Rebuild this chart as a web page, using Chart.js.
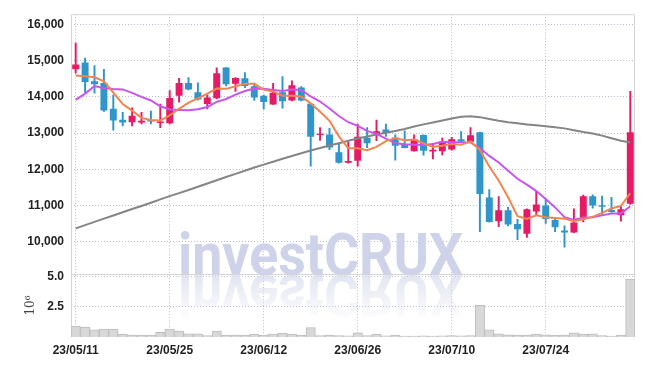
<!DOCTYPE html>
<html><head><meta charset="utf-8">
<script src="https://cdn.jsdelivr.net/npm/chart.js@4.4.0/dist/chart.umd.min.js"></script>
<style>html,body{margin:0;padding:0;background:#fff;}#wrap{width:645px;height:366px;position:relative;}</style>
</head><body><div id="wrap"><canvas id="c" width="645" height="366"></canvas></div>
<script>
// ---- data ----
const dates = ['23/05/11','23/05/12','23/05/15','23/05/16','23/05/17','23/05/18','23/05/19','23/05/22','23/05/23','23/05/24',
 '23/05/25','23/05/26','23/05/30','23/05/31','23/06/01','23/06/02','23/06/05','23/06/07','23/06/08','23/06/09',
 '23/06/12','23/06/13','23/06/14','23/06/15','23/06/16','23/06/19','23/06/20','23/06/21','23/06/22','23/06/23',
 '23/06/26','23/06/27','23/06/28','23/06/29','23/06/30','23/07/03','23/07/04','23/07/05','23/07/06','23/07/07',
 '23/07/10','23/07/11','23/07/12','23/07/13','23/07/14','23/07/17','23/07/18','23/07/19','23/07/20','23/07/21',
 '23/07/24','23/07/25','23/07/26','23/07/27','23/07/28','23/07/31','23/08/01','23/08/02','23/08/03','23/08/04'];
const opens = [14760,14950,14430,14380,13670,13370,13300,13290,13360,13280,
 13270,14030,14380,14130,13800,13960,14810,14360,14510,14290,
 14030,13790,14130,13900,14260,13810,12950,12960,12470,12180,
 12240,12870,12970,13100,12880,12690,12500,12950,12490,12500,
 12550,12830,12760,13020,11220,10570,10870,10490,10220,10840,
 11000,10600,10310,10260,10680,11260,11010,10880,10730,11050];
const highs = [15480,15070,14860,14760,14050,13570,13700,13570,13610,13800,
 14170,14510,14530,14390,14050,14800,14810,14530,14670,14380,
 14050,14370,14560,14440,14280,13820,13150,13130,12700,12750,
 13250,13150,13360,13250,12950,13060,12950,12950,12720,12860,
 12880,13040,13150,13030,11440,11250,10960,10620,10910,11390,
 11170,10640,10440,10910,11290,11300,11260,11230,11000,14150];
const lows = [14650,14120,14100,13600,13080,13200,13200,13250,13250,13150,
 13250,13850,14190,13910,13670,13940,14300,14150,14250,13900,
 13670,13790,13690,13890,13890,12090,12800,12540,12170,12170,
 12090,12600,12790,12910,12250,12590,12500,12390,12290,12400,
 12530,12750,12740,10280,10540,10420,10440,10060,10120,10730,
 10510,10280,9850,10250,10550,10930,10720,10810,10570,11030];
const closes = [14890,14410,14350,13620,13350,13290,13480,13340,13320,13320,
 13970,14380,14200,13930,13980,14650,14350,14520,14300,13980,
 13860,14110,13880,14320,13900,12900,12980,12600,12180,12230,
 12900,12720,13050,13000,12650,12590,12830,12510,12540,12770,
 12830,12770,12940,11320,10550,10870,10480,10350,10900,11030,
 10630,10400,10260,10530,11260,11000,10970,10820,10900,13020];
const ma5 = [14590,14570,14540,14430,14120,13800,13620,13420,13360,13350,
 13490,13670,13840,13960,14090,14230,14220,14290,14360,14360,
 14200,14150,14030,14030,14010,13820,13590,13340,12910,12580,
 12580,12530,12620,12780,12860,12800,12820,12720,12620,12650,
 12700,12680,12770,12530,12080,11690,11230,10710,10630,10730,
 10680,10660,10640,10570,10620,10690,10800,10920,10990,11340];
const ma10 = [13915,14090,14300,14240,14215,14205,14110,14000,13900,13740,
 13650,13640,13630,13660,13720,13860,13940,14060,14160,14230,
 14220,14190,14160,14200,14190,14010,13870,13680,13470,13300,
 13200,13060,12980,12850,12720,12690,12680,12670,12700,12760,
 12750,12750,12740,12580,12370,12190,11960,11740,11580,11400,
 11180,10950,10680,10600,10670,10680,10730,10780,10780,10980];
const maLong = [10370,10460,10550,10640,10725,10815,10905,10990,11080,11170,
 11260,11345,11430,11520,11610,11700,11790,11875,11960,12050,
 12130,12210,12290,12370,12445,12520,12590,12655,12720,12790,
 12850,12905,12960,13010,13060,13115,13180,13240,13290,13345,
 13400,13450,13465,13440,13390,13340,13300,13270,13240,13215,
 13190,13160,13130,13080,13030,12990,12930,12860,12790,12740];
const volumes = [900000,820000,600000,650000,650000,240000,160000,160000,160000,380000,
 650000,490000,270000,270000,110000,490000,160000,160000,160000,240000,
 160000,240000,330000,240000,160000,790000,110000,160000,120000,100000,
 350000,120000,240000,100000,160000,80000,80000,100000,80000,100000,
 110000,100000,120000,2640000,600000,270000,190000,160000,160000,240000,
 190000,140000,160000,350000,240000,270000,110000,80000,160000,4810000];
const priceTicks = [10000,11000,12000,13000,14000,15000,16000];
const volumeTicks = [2500000,5000000];
const dateTickEvery = 10;
const volumeAxisTitle = '10\u2076';
const watermarkText = 'investCRUX';

// ---- styling ----
const FONT = "'Liberation Sans', Arial, sans-serif";
const UP = 'rgb(230,27,102)', DOWN = 'rgb(48,150,201)';
const GRID = '#b9bed3';
const candleColors = opens.map((o,i) => closes[i] >= o ? UP : DOWN);

const framePlugin = {
  id:'frame',
  beforeDatasetsDraw(chart){
    const {ctx, chartArea:{left,right,top,bottom}} = chart;
    const sep = chart.scales.yv.top;
    ctx.save();
    ctx.lineWidth = 1;
    ctx.strokeStyle = '#d5d5d5';
    ctx.beginPath();
    ctx.moveTo(left+0.5, bottom); ctx.lineTo(left+0.5, top+0.5);
    ctx.lineTo(right-0.5, top+0.5); ctx.lineTo(right-0.5, bottom);
    ctx.moveTo(left, Math.round(sep)+0.5); ctx.lineTo(right, Math.round(sep)+0.5);
    ctx.stroke();
    ctx.restore();
  }
};
const watermarkPlugin = {
  id:'wm',
  beforeDatasetsDraw(chart){
    const ctx = chart.ctx;
    ctx.save();
    ctx.font = "bold 60px Roboto, 'Liberation Sans', sans-serif";
    ctx.textBaseline = 'alphabetic';
    ctx.textAlign = 'left';
    const w = ctx.measureText(watermarkText).width;
    ctx.translate(178, 275);
    ctx.scale(285 / w, 1);
    ctx.fillStyle = 'rgb(206,211,233)';
    ctx.fillText(watermarkText, 0, 0);
    ctx.scale(1, -1);
    const g = ctx.createLinearGradient(0, 0, 0, -42);
    g.addColorStop(0, 'rgba(214,218,236,0.7)');
    g.addColorStop(1, 'rgba(214,218,236,0.08)');
    ctx.fillStyle = g;
    ctx.fillText(watermarkText, 0, 0);
    ctx.restore();
  }
};

const tickFont = {family: FONT, size: 12, weight: 'bold'};

new Chart(document.getElementById('c'), {
  type: 'bar',
  data: {
    labels: dates,
    datasets: [
      {type:'line', data: ma5, borderColor:'#ef8650', borderWidth:2, pointRadius:0, tension:0, yAxisID:'y', order:0},
      {type:'line', data: ma10, borderColor:'#c955ec', borderWidth:2, pointRadius:0, tension:0, yAxisID:'y', order:0},
      {type:'line', data: maLong, borderColor:'#858585', borderWidth:2, pointRadius:0, tension:0, yAxisID:'y', order:0},
      {data: opens.map((o,i) => [o, closes[i]]), backgroundColor: candleColors, barPercentage:0.74, categoryPercentage:1, grouped:false, yAxisID:'y', order:1},
      {data: lows.map((l,i) => [l, highs[i]]), backgroundColor: candleColors, barThickness:1.3, grouped:false, yAxisID:'y', order:2},
      {data: volumes, backgroundColor:'#d8d8d8', borderColor:'#bcbcbc', borderWidth:1, barPercentage:1, categoryPercentage:1, grouped:false, yAxisID:'yv', order:3}
    ]
  },
  options: {
    responsive:false, animation:false, devicePixelRatio:1,
    layout:{padding:{top:9, right:10, left:0, bottom:0}},
    plugins:{legend:{display:false}, tooltip:{enabled:false}},
    scales:{
      x:{
        type:'category', offset:true,
        grid:{offset:false, color:GRID, drawTicks:false},
        border:{display:false, dash:[1,2]},
        ticks:{autoSkip:false, maxRotation:0, font:tickFont, color:'#222', padding:6},
        afterBuildTicks(s){ s.ticks = s.ticks.filter(t => t.value % dateTickEvery === 0); },
        afterFit(s){ s.height = 29; }
      },
      y:{
        position:'left', stack:'panes', stackWeight:264, weight:1,
        min:9112, max:16280,
        grid:{color:GRID, drawTicks:false},
        border:{display:false, dash:[1,2]},
        ticks:{font:tickFont, color:'#222', padding:7, callback:v => v.toLocaleString('en-US')},
        afterBuildTicks(s){ s.ticks = priceTicks.map(v => ({value:v})); },
        afterFit(s){ s.width = 71; }
      },
      yv:{
        position:'left', stack:'panes', stackWeight:64, weight:0,
        min:0, max:5230000,
        grid:{color:GRID, drawTicks:false},
        border:{display:false, dash:[1,2]},
        ticks:{font:tickFont, color:'#222', padding:7, callback:v => (v/1e6).toFixed(1)},
        title:{display:true, text:volumeAxisTitle, font:{family:'DejaVu Serif', size:12}, color:'#444', padding:{top:24, bottom:0}},
        afterBuildTicks(s){ s.ticks = volumeTicks.map(v => ({value:v})); },
        afterFit(s){ s.width = 71; }
      }
    }
  },
  plugins:[watermarkPlugin, framePlugin]
});
</script></body></html>
